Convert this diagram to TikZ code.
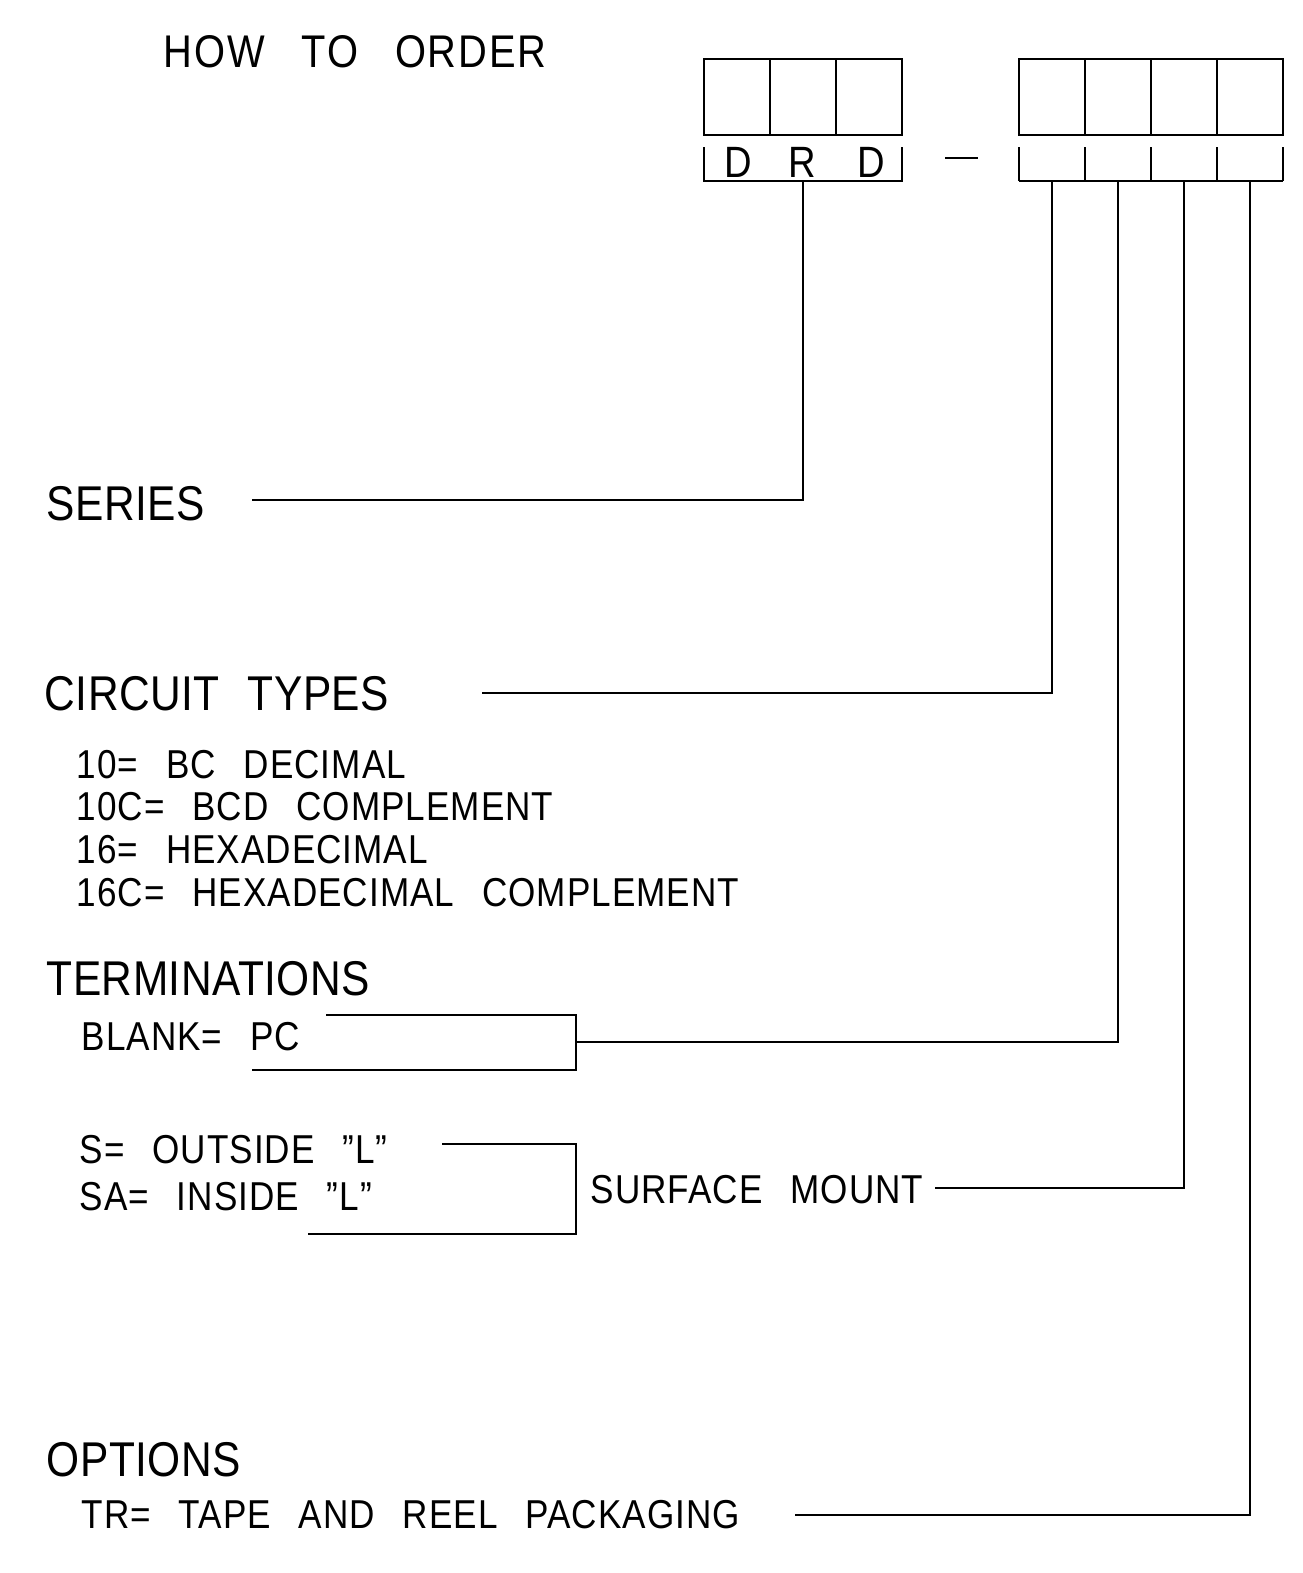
\documentclass[tikz,border=0pt]{standalone}
\usepackage{fontspec}
\setmainfont{Liberation Sans}[FakeStretch=0.87]
\newcommand\wsp{\spaceskip=28pt plus 2pt\relax}
\newcommand\wspt{\spaceskip=37pt plus 2pt\relax}
\begin{document}
\begin{tikzpicture}[x=1bp,y=-1bp,line width=1.5pt,
  head/.style={anchor=base west,inner sep=0pt,font=\fontsize{49}{50}\selectfont\addfontfeatures{LetterSpace=1}\wsp},
  sub/.style={anchor=base west,inner sep=0pt,font=\fontsize{40.5}{42}\selectfont\addfontfeatures{LetterSpace=2.5}\wsp},
  title/.style={anchor=base west,inner sep=0pt,font=\fontsize{46}{48}\selectfont\addfontfeatures{LetterSpace=4}\wspt},
  letter/.style={anchor=base west,inner sep=0pt,font=\fontsize{44}{46}\selectfont},
  wire/.style={line width=1.5pt}]
\useasboundingbox (0,0) rectangle (1303,1573);
% title
\node[title] (title) at (163,68) {HOW TO ORDER};
% left code boxes
\draw (704,59) rectangle (902,135);
\draw (770,59) -- (770,135) (836,59) -- (836,135);
\draw (704,147) -- (704,181) -- (902,181) -- (902,147);
\node[letter] (d1) at (724,177) {D};
\node[letter] (r1) at (788,177) {R};
\node[letter] (d2) at (857,177) {D};
% dash
\draw (945,158) -- (978,158);
% right code boxes
\draw (1019,59) rectangle (1283,135);
\draw (1085,59) -- (1085,135) (1151,59) -- (1151,135) (1217,59) -- (1217,135);
\draw (1019,181) -- (1283,181);
\foreach \x in {1019,1085,1151,1217,1283} \draw (\x,147) -- (\x,181);
% connector origins
\coordinate (pR) at (803,181);
\coordinate (p1) at (1052,181);
\coordinate (p2) at (1118,181);
\coordinate (p3) at (1184,181);
\coordinate (p4) at (1250,181);
% labels
\node[head] (series) at (46,520) {SERIES};
\coordinate (eS) at (252,500);
\node[head] (circ) at (44,710) {CIRCUIT TYPES};
\coordinate (eC) at (482,693);
\node[sub] (t10) at (76,778) {10= BC DECIMAL};
\node[sub] (t10c) at (76,820) {10C= BCD COMPLEMENT};
\node[sub] (t16) at (76,863) {16= HEXADECIMAL};
\node[sub] (t16c) at (76,906) {16C= HEXADECIMAL COMPLEMENT};
\node[head] (term) at (46,995) {TERMINATIONS};
\node[sub] (blank) at (81,1050) {BLANK= PC};
\node[sub] (sout) at (79,1163) {S= OUTSIDE ”L”};
\node[sub] (sain) at (79,1210) {SA= INSIDE ”L”};
\node[sub] (smt) at (590,1203) {SURFACE MOUNT};
\node[head] (opt) at (46,1476) {OPTIONS};
\node[sub] (tr) at (81,1528) {TR= TAPE AND REEL PACKAGING};
% brackets
\coordinate (b1t) at (326,1015);
\coordinate (b1b) at (252,1070);
\coordinate (b1m) at (576,1042);
\draw (b1t) -- (576,1015) -- (576,1070) -- (b1b);
\coordinate (b2t) at (442,1144);
\coordinate (b2b) at (308,1234);
\draw (b2t) -- (576,1144) -- (576,1234) -- (b2b);
\coordinate (eM) at (935,1188);
\coordinate (eT) at (795,1515);
% connectors
\draw[wire] (pR) |- (eS);
\draw[wire] (p1) |- (eC);
\draw[wire] (p2) |- (b1m);
\draw[wire] (p3) |- (eM);
\draw[wire] (p4) |- (eT);
\end{tikzpicture}
\end{document}
